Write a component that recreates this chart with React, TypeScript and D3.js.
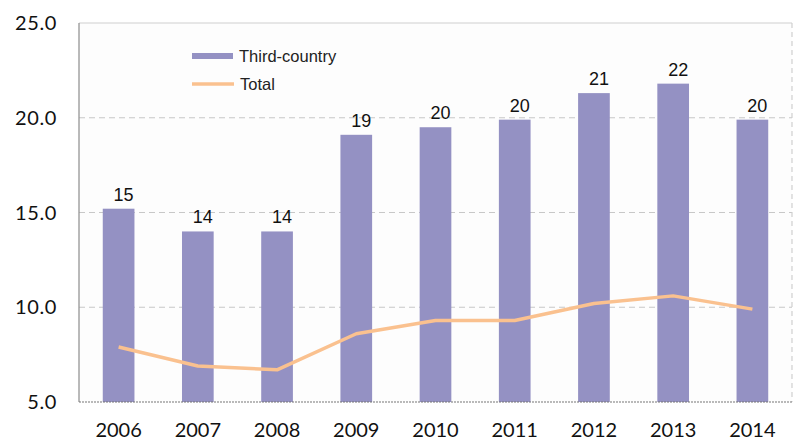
import React from "react";
import * as d3 from "d3";

const years = ["2006", "2007", "2008", "2009", "2010", "2011", "2012", "2013", "2014"];
const thirdCountry = [15.2, 14.0, 14.0, 19.1, 19.5, 19.9, 21.3, 21.8, 19.9];
const barLabels = ["15", "14", "14", "19", "20", "20", "21", "22", "20"];
const total = [7.9, 6.9, 6.7, 8.6, 9.3, 9.3, 10.2, 10.6, 9.9];
const yTicks = [5, 10, 15, 20, 25];

const W = 798;
const H = 441;
const M = { left: 79, right: 6, top: 23, bottom: 39 };

export default function App() {
  const x = d3
    .scaleBand<string>()
    .domain(years)
    .range([M.left, W - M.right])
    .paddingInner(0.6)
    .paddingOuter(0.3);
  const y = d3.scaleLinear().domain([5, 25]).range([H - M.bottom, M.top]);
  const cx = (d: string) => (x(d) ?? 0) + x.bandwidth() / 2;
  const line = d3
    .line<number>()
    .x((_, i) => cx(years[i]))
    .y((d) => y(d));

  const x0 = M.left;
  const x1 = W - M.right;
  const barColor = "#9491c3";
  const lineColor = "#fac18f";

  return (
    <svg
      width={W}
      height={H}
      style={{ position: "absolute", left: 0, top: 0, background: "#fff" }}
    >
      <rect x={x0} y={y(25)} width={x1 - x0} height={y(5) - y(25)} fill="#fdfdfd" />
      {yTicks
        .filter((t) => t > 5 && t < 25)
        .map((t) => (
          <line
            key={t}
            x1={x0}
            x2={x1}
            y1={y(t)}
            y2={y(t)}
            stroke="#c8c8c8"
            strokeWidth={1.2}
            strokeDasharray="6,4"
          />
        ))}
      <line x1={x0} x2={x1} y1={y(25)} y2={y(25)} stroke="#d0d0d0" strokeWidth={1.2} />
      <line x1={x1} x2={x1} y1={y(25)} y2={y(5)} stroke="#d0d0d0" strokeWidth={1.2} strokeDasharray="5,4" />
      {years.map((yr, i) => (
        <rect
          key={yr}
          x={x(yr)}
          y={y(thirdCountry[i])}
          width={x.bandwidth()}
          height={y(5) - y(thirdCountry[i])}
          fill={barColor}
        />
      ))}
      <line x1={x0} x2={x0} y1={y(25)} y2={y(5)} stroke="#8c8c8c" strokeWidth={1.2} />
      <line x1={x0} x2={x1} y1={y(5)} y2={y(5)} stroke="#777" strokeWidth={1.2} strokeDasharray="2,1" />
      <path d={line(total) ?? ""} fill="none" stroke={lineColor} strokeWidth={3.5} strokeLinejoin="round" />
      {years.map((yr, i) => (
        <text
          key={yr}
          x={cx(yr) + 5}
          y={y(thirdCountry[i]) - 8}
          textAnchor="middle"
          fontFamily="Liberation Sans, Arial, sans-serif"
          fontSize={18}
          fill="#111"
        >
          {barLabels[i]}
        </text>
      ))}
      {yTicks.map((t) => (
        <text
          key={t}
          x={57}
          y={y(t)}
          dy="0.35em"
          textAnchor="end"
          fontFamily="Lato, sans-serif"
          fontSize={20}
          letterSpacing={0.6}
          fill="#111"
        >
          {t.toFixed(1)}
        </text>
      ))}
      {years.map((yr) => (
        <text
          key={yr}
          x={cx(yr)}
          y={437}
          textAnchor="middle"
          fontFamily="Lato, sans-serif"
          fontSize={20}
          fill="#111"
        >
          {yr}
        </text>
      ))}
      <rect x={192} y={53} width={41} height={6} fill={barColor} />
      <text x={239} y={61.5} fontFamily="Liberation Sans, Arial, sans-serif" fontSize={16.5} fill="#222">
        Third-country
      </text>
      <line x1={192} x2={234} y1={84} y2={84} stroke={lineColor} strokeWidth={3.5} />
      <text x={240} y={89.5} fontFamily="Liberation Sans, Arial, sans-serif" fontSize={16.5} fill="#222">
        Total
      </text>
    </svg>
  );
}
